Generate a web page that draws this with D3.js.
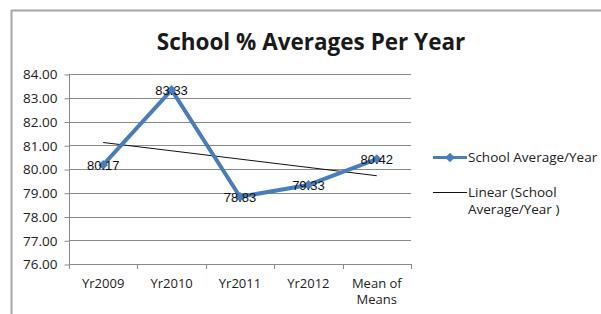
<!DOCTYPE html>
<html><head><meta charset="utf-8">
<script src="https://cdn.jsdelivr.net/npm/d3@7"></script>
<style>body{margin:0;background:#fff}svg{display:block}</style>
</head><body>
<svg id="c" width="601" height="314"></svg>
<script>
const categories = ["Yr2009", "Yr2010", "Yr2011", "Yr2012", "Mean of\nMeans"];
const values = [80.17, 83.33, 78.83, 79.33, 80.42];
const labels = ["80.17", "83.33", "78.83", "79.33", "80.42"];
const yTicks = [76, 77, 78, 79, 80, 81, 82, 83, 84];
const title = "School % Averages Per Year";
const legendLabels = ["School Average/Year", "Linear (School\nAverage/Year )"];

const svg = d3.select("#c");
const blue = "#4A7EBB";
const grid = "#8a8a8a";

// chart border
svg.append("path").attr("d", "M11.5,320 V10.5 H610").attr("fill", "none")
  .attr("stroke", "#a6a6a6").attr("stroke-width", 2);

svg.append("text").attr("x", 311).attr("y", 50).attr("text-anchor", "middle")
  .attr("font-family", "Open Sans").attr("font-weight", "bold").attr("font-size", 22.5)
  .attr("fill", "#1a1a1a").text(title);

const x = d3.scaleBand().domain(categories).range([69, 411]);
const y = d3.scaleLinear().domain([76, 84]).range([264, 74]);

// gridlines
svg.append("g").selectAll("line").data(yTicks.slice(1)).join("line")
  .attr("x1", 69).attr("x2", 411).attr("y1", d => Math.round(y(d)) + 0.5).attr("y2", d => Math.round(y(d)) + 0.5)
  .attr("stroke", grid).attr("stroke-width", 1);

// y axis
const yAxis = svg.append("g").attr("transform", "translate(69.5,0.5)")
  .call(d3.axisLeft(y).tickValues(yTicks).tickFormat(d3.format(".2f")).tickSize(5).tickPadding(7));
yAxis.select(".domain").attr("stroke", grid).attr("d", `M0,${y(84)}V${y(76)}`);
yAxis.selectAll(".tick line").attr("stroke", grid);
yAxis.selectAll(".tick text").attr("font-family", "Open Sans").attr("font-size", 13.5).attr("fill", "#222");

// x axis
const xAxis = svg.append("g").attr("transform", `translate(0,${Math.round(y(76)) + 0.5})`)
  .call(d3.axisBottom(x).tickSize(0).tickPadding(14));
xAxis.select(".domain").attr("stroke", grid).attr("d", "M69,0H411");
xAxis.selectAll(".tick text").attr("font-family", "Open Sans").attr("font-size", 13).attr("fill", "#222")
  .each(function(d) {
    const t = d3.select(this); const parts = d.split("\n"); t.text(null);
    parts.forEach((p, i) => t.append("tspan").attr("x", 0).attr("dy", i ? "1.25em" : "0.71em").text(p));
  });
// category boundary ticks
svg.append("g").selectAll("line").data(categories.map(c => x(c)).concat([x.range()[1]])).join("line")
  .attr("x1", d => Math.round(d) + 0.5).attr("x2", d => Math.round(d) + 0.5)
  .attr("y1", Math.round(y(76))).attr("y2", Math.round(y(76)) + 5)
  .attr("stroke", grid);

const cx = d => x(d) + x.bandwidth() / 2;

// trend line (least squares)
const n = values.length;
const xs = d3.range(1, n + 1);
const mx = d3.mean(xs), my = d3.mean(values);
const slope = d3.sum(xs, (xi, i) => (xi - mx) * (values[i] - my)) / d3.sum(xs, xi => (xi - mx) ** 2);
const icpt = my - slope * mx;
svg.append("line")
  .attr("x1", cx(categories[0])).attr("y1", y(icpt + slope * 1))
  .attr("x2", cx(categories[n - 1])).attr("y2", y(icpt + slope * n))
  .attr("stroke", "#111").attr("stroke-width", 1);

// series line
svg.append("path").datum(values)
  .attr("d", d3.line().x((d, i) => cx(categories[i])).y(d => y(d)))
  .attr("fill", "none").attr("stroke", blue).attr("stroke-width", 4).attr("stroke-linejoin", "round");

const diamond = d3.symbol().type(d3.symbolDiamond2).size(60);
svg.append("g").selectAll("path").data(values).join("path")
  .attr("transform", (d, i) => `translate(${cx(categories[i])},${y(d)})`)
  .attr("d", diamond).attr("fill", blue);

// data labels
svg.append("g").selectAll("text").data(values).join("text")
  .attr("x", (d, i) => cx(categories[i])).attr("y", d => y(d) + 5)
  .attr("text-anchor", "middle").attr("font-family", "Liberation Sans").attr("font-size", 13)
  .attr("fill", "#111").text((d, i) => labels[i]);

// legend
const lg = svg.append("g");
lg.append("line").attr("x1", 433).attr("x2", 467).attr("y1", 157.5).attr("y2", 157.5)
  .attr("stroke", blue).attr("stroke-width", 3);
lg.append("path").attr("transform", "translate(450,157.5)").attr("d", diamond).attr("fill", blue);
lg.append("text").attr("x", 468).attr("y", 162).attr("font-family", "Open Sans").attr("font-size", 13.5)
  .attr("fill", "#222").text(legendLabels[0]);
lg.append("line").attr("x1", 433).attr("x2", 467).attr("y1", 192.5).attr("y2", 192.5)
  .attr("stroke", "#111").attr("stroke-width", 1);
const lt = lg.append("text").attr("x", 468).attr("y", 197).attr("font-family", "Open Sans").attr("font-size", 13.5).attr("fill", "#222");
legendLabels[1].split("\n").forEach((p, i) => lt.append("tspan").attr("x", 468).attr("dy", i ? 17 : 0).text(p));
</script>
</body></html>
